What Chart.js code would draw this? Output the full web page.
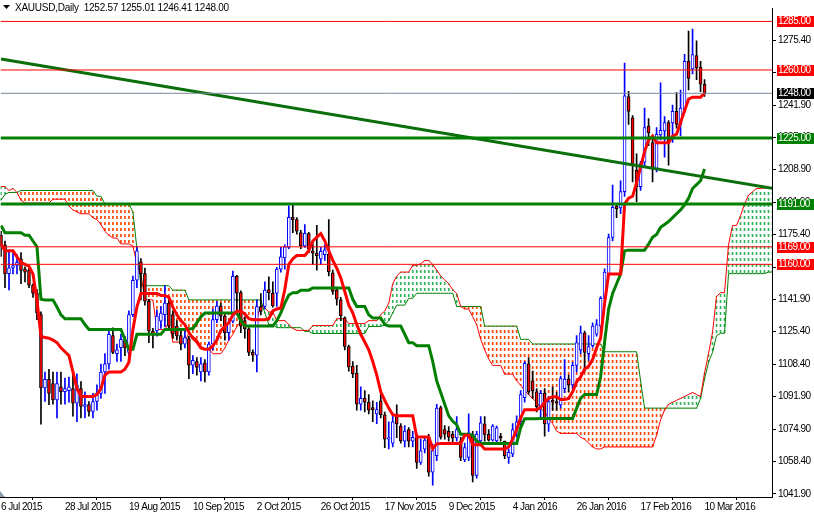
<!DOCTYPE html>
<html><head><meta charset="utf-8">
<script src="https://cdn.jsdelivr.net/npm/chart.js@4.4.1/dist/chart.umd.min.js"></script>
<style>html,body{margin:0;padding:0;background:#fff;overflow:hidden}canvas{display:block}</style>
</head><body>
<canvas id="c" width="814" height="514"></canvas>
<script>
// ---------------- DATA ----------------
const symbolTitle = 'XAUUSD,Daily';
const lastOHLC = ['1252.57', '1255.01', '1246.41', '1248.00'];

const dateLabels = ['6 Jul 2015','28 Jul 2015','19 Aug 2015','10 Sep 2015','2 Oct 2015','26 Oct 2015','17 Nov 2015','9 Dec 2015','4 Jan 2016','26 Jan 2016','17 Feb 2016','10 Mar 2016'];
const dateLabelBars = [0,16,32,48,64,80,96,112,128,144,160,176];

const yTickValues = [1041.9,1058.4,1074.9,1091.9,1108.4,1125.4,1141.9,1158.4,1175.4,1191.9,1208.9,1225.4,1241.9,1258.9,1275.4];

const openP = [1175,1170,1155.2,1158.2,1159.4,1162.8,1157.7,1156.9,1149.3,1145.1,1134.1,1096.4,1100.8,1098.6,1090.2,1097,1094.4,1095,1096.1,1088.5,1096.1,1086.9,1087.8,1084.3,1089.4,1093.6,1104.6,1108.8,1123.3,1114,1117.1,1121,1114.7,1134.1,1151.8,1161.3,1155.2,1140.9,1125.7,1125.7,1130.7,1134.1,1140,1134.1,1128.2,1123.3,1118.9,1121.8,1108.1,1110,1104.6,1109.3,1104.6,1118.9,1131.5,1138.6,1133.3,1124.8,1130.7,1153.8,1145.4,1131,1126.8,1114.7,1113.3,1138.3,1138.3,1147,1145.1,1145.1,1157.5,1163.3,1168.7,1184.2,1183,1176.3,1169.5,1175.8,1167,1165.7,1162.8,1165,1165.3,1155.6,1146.7,1141.7,1132.4,1117.7,1107.6,1104,1088,1091,1089,1086.3,1083,1089.7,1082.6,1070,1068,1082.6,1076.7,1069,1075,1069,1070.8,1058,1064.9,1070.8,1053,1061.5,1086.3,1075,1074,1072.5,1070.7,1069,1059.3,1060.6,1072.7,1051.4,1069.1,1077.9,1072.5,1069.5,1069.1,1071.5,1069,1060.6,1062.4,1075,1079,1091.4,1108.8,1100,1094.4,1086.6,1093.6,1077.7,1090,1089.4,1087.7,1096,1101,1098,1108,1116,1124.8,1114,1118.1,1124,1128.2,1142.5,1155.2,1173.8,1189.8,1189,1197.4,1246.3,1235.4,1208.4,1199.9,1212.6,1231.1,1222.7,1209.2,1226.6,1228.6,1233,1232.8,1238.7,1232,1239.6,1264.5,1260.6,1267.4,1261.5,1252.57];
const highP = [1177,1172,1167,1166,1165,1166,1158.7,1158,1150,1147,1135.5,1104.6,1106,1104.6,1104.6,1104.6,1101.5,1102,1103.7,1103.7,1099.7,1094.4,1089.4,1093.6,1098,1108.7,1114,1126.5,1127.3,1119,1124,1123,1136,1154,1169,1163,1158,1142,1127,1136.6,1138.3,1149,1142.5,1136,1131,1126,1126.5,1123,1113,1112,1112,1111,1120,1137,1141,1140,1134,1131,1156.5,1154.3,1146.4,1133,1127.5,1116,1141.7,1145,1151,1153.5,1151,1158.5,1168.7,1170,1190.1,1191,1184,1177.5,1180.5,1176.5,1172,1180,1168.7,1170,1183,1157,1148,1143,1133,1118.5,1110,1108,1097,1095,1093,1089.7,1089,1095.3,1084,1079,1083,1087.7,1078,1077,1076,1074,1072.5,1070,1071,1072.5,1067.5,1088,1087,1077,1076.5,1074,1081.7,1071,1068,1083,1074,1074,1081.7,1081.7,1075,1077.5,1076.7,1073,1069,1065,1078,1082,1095,1110,1112,1105,1096,1095,1096,1092,1097,1094,1102.5,1111,1103,1109.6,1123.3,1128.2,1125.7,1123.3,1129.9,1131.5,1143.4,1157.7,1175.5,1200.8,1190.6,1203,1263.5,1249,1236.5,1216.8,1213,1240.4,1235,1225,1230.3,1253.4,1236,1234,1241.9,1248.4,1249.7,1268,1280,1281,1275,1264.5,1255.01];
const lowP = [1164,1148,1146.8,1155,1155,1150,1151,1148,1143,1131.5,1077.7,1089.4,1087.8,1088,1080.9,1088,1088,1089,1081.8,1079,1081,1081,1081.8,1081,1085,1091,1093.6,1106,1114,1110,1110,1113,1113,1133,1148,1141.7,1139,1119.7,1117,1123,1127,1128,1126.5,1122,1121,1116,1117,1101.2,1103.7,1103,1100,1099.5,1103,1116,1130,1131,1121,1121,1129.9,1135,1124.8,1122,1113,1110,1104.6,1134,1137,1141.7,1138,1138.3,1156,1157.5,1168,1176.3,1175.5,1168,1168.7,1166,1160,1157,1160,1162,1154,1144.5,1139,1131,1116,1105,1101.7,1085,1085,1084,1083,1079,1078,1081,1065.7,1065,1066,1070.8,1068,1066,1066,1066,1055,1057,1063,1051,1046.3,1059,1070,1070,1069,1068,1069,1059,1058.5,1059,1048,1050,1068,1069,1069,1069,1068,1069,1060,1057.6,1061,1071,1076,1089,1093,1091,1084,1081,1071.6,1074,1085,1085,1086,1094,1094.5,1096,1104.6,1114,1104.6,1110.6,1117.2,1123,1124.8,1141.7,1154.3,1172,1184,1186,1195,1232,1202.4,1192.3,1198,1210,1221,1202.4,1207.5,1224,1215.1,1211,1222.7,1230,1226.1,1238,1249.7,1258,1255,1248.9,1246.41];
const closeP = [1169.5,1155,1158.2,1159.4,1161,1156.9,1156,1149.3,1145.1,1135,1096.4,1100.8,1093.6,1090.2,1098.6,1094.4,1096,1097,1088.5,1097.8,1086.9,1087.8,1084.3,1089.4,1093.6,1104.6,1108.8,1124,1114.7,1116,1121.4,1117,1134.1,1151.8,1167,1155.2,1141,1125.7,1124,1133.3,1134.9,1140,1128.2,1124,1123.1,1118.9,1122.3,1108.1,1110.6,1107,1108.8,1104.6,1118.9,1131.5,1138.5,1133.3,1124.8,1129.9,1153.8,1145.1,1128.2,1126.8,1114.7,1113.3,1138.3,1135.8,1146.7,1145.4,1138.6,1157.5,1163.9,1169,1184.2,1183,1177.1,1169.5,1176,1167.8,1165.7,1164.5,1166.7,1167.5,1156.1,1146,1142,1133.6,1117.7,1107.1,1103.7,1088,1091,1089,1085,1085.2,1085.2,1082.6,1070,1070.8,1079,1077.9,1069.1,1074.2,1069,1071,1058.1,1064,1069.5,1053,1064.1,1086,1071.1,1072.6,1071,1070.5,1075,1060.6,1065.7,1073.3,1051.4,1072.7,1078.4,1072.5,1069.5,1076.7,1075.8,1070.5,1061.5,1063.2,1075,1079,1093,1109.1,1094.4,1095,1086.8,1093.6,1077.9,1089.4,1089,1088.6,1101.2,1101,1098,1108,1119.7,1124.8,1114.7,1117.7,1128.2,1129,1142.5,1156,1173.8,1189.3,1188.6,1197.4,1246.7,1238.7,1211,1199.9,1211.8,1230.3,1227.7,1209.2,1226.9,1229,1233,1222.7,1238.7,1232,1240.4,1264.5,1255.6,1267.9,1261.1,1252.7,1248.00];

const tenkan = [1170.4,1167,1167,1167,1163.8,1161,1160,1159,1155,1141.5,1123,1122.3,1122,1121,1119.7,1117,1115,1113,1104.6,1096,1092,1092,1092,1092,1093,1096,1103,1104.6,1104.6,1104.6,1104.6,1106,1109.6,1126.5,1138,1145,1145,1145,1145,1145,1144,1144,1143,1138,1134,1131,1129,1125,1122,1120,1117,1116.3,1116.3,1118,1121,1126,1128,1130,1134,1135.8,1135.8,1134.5,1132,1131.5,1131.5,1131.5,1131.5,1132,1136,1137,1137.5,1147,1160,1162.8,1164.5,1164.5,1164.5,1167,1172,1174,1175.8,1172,1167,1162,1158,1153,1146,1139,1135,1129,1124,1120,1116,1110,1103,1094.4,1090,1086,1082.6,1082.1,1082.1,1082.1,1082.1,1082.1,1071.1,1071.1,1071.1,1071.1,1065.1,1067.6,1067.8,1067.8,1067.8,1067.8,1067.8,1067.8,1072,1072,1067.1,1067.1,1067.1,1064.9,1064.9,1064.9,1064.9,1064.9,1064.9,1066,1070,1075,1081,1085.2,1085.2,1085.2,1085.2,1086.3,1089,1091,1091.9,1091.9,1090.4,1090.4,1091,1094.4,1099.5,1102,1106,1107.5,1111,1117,1122,1140,1155,1155,1155,1155,1191,1194,1195,1202,1210,1218,1224,1226,1222.5,1222.5,1222.5,1222.5,1226,1227,1233,1239,1245,1246,1246,1246,1248];
const kijun = [1180,1176.3,1176.3,1176.3,1176.3,1176.3,1175,1175,1172,1169,1142,1141.7,1141.7,1141.7,1138,1134,1132,1132,1132,1132,1132,1129,1126.5,1126.5,1126.5,1126.5,1126.5,1126.5,1126.5,1126.5,1126.5,1121.4,1116.3,1116.3,1124,1124,1124,1124,1124,1124,1124,1126.5,1126.5,1126.5,1126.5,1126.5,1126.5,1126.8,1126.8,1130,1133,1134.9,1134.9,1134.9,1134.9,1134.9,1134.9,1134.9,1134.9,1134.9,1131,1128.2,1128.2,1128.2,1128.2,1128.2,1128.2,1128.2,1128.2,1131,1135,1140,1144.2,1145.4,1145.4,1146.7,1146.7,1146.7,1147.8,1147.8,1147.8,1147.8,1147.8,1147.8,1147.8,1147.8,1147.8,1147.8,1142,1138.3,1138.3,1138.3,1134,1132.4,1132.4,1132.4,1129,1128.2,1128.2,1128.2,1128.2,1124,1119.7,1119.7,1118.1,1118.1,1118.1,1118.1,1110,1100,1094,1088,1082,1079.2,1077.5,1072.5,1072.5,1072.5,1072,1069,1067.8,1067.8,1067.8,1067.8,1067.8,1067.8,1067.8,1067.8,1067.8,1067.8,1076,1080.5,1080.5,1080.5,1080.5,1080.6,1080.6,1080.6,1080.6,1080.6,1080.6,1080.6,1080.6,1080.6,1086,1091,1093,1093,1093,1093,1102,1120,1137,1145,1150,1155,1167,1167.3,1167.3,1167.3,1167.3,1167.3,1170.4,1173.9,1175.4,1179,1180.5,1182,1184,1186,1188,1190.6,1194,1199,1201,1203,1209];
// Senkou spans (already displaced 26 bars forward, so they run past the last candle)
const spanA = [1200,1200,1198,1199,1197,1193,1191.5,1191.5,1191.5,1191.5,1191.5,1191.5,1191.5,1193.5,1193.5,1193.5,1193.5,1190,1188,1187,1186,1186,1186,1184,1183,1180.5,1177,1175,1173.5,1173.5,1170.5,1170.5,1170.5,1169.5,1160,1155,1141.7,1141.7,1141.7,1126.5,1126.5,1126.5,1130,1120,1120,1120,1120,1124.8,1123,1121.4,1118,1116.5,1116.5,1114,1114,1114,1117,1121,1124,1128,1130.5,1133,1131.8,1131.8,1131.8,1139,1137.5,1135.5,1135.5,1131,1131,1131,1129,1127,1126,1126,1126,1126,1128.5,1128.5,1128.5,1128.5,1128.5,1128.5,1132,1132,1132,1129.5,1129.5,1129.5,1129.5,1129.5,1131,1131,1131,1134,1136,1140,1150,1154,1156,1156,1156,1159.5,1159.5,1160.3,1161.9,1161.9,1160,1157,1154,1152,1150,1147,1145,1138.3,1137,1137,1133,1129,1121.4,1116,1111.3,1108,1108,1108,1103.5,1103.5,1103.5,1100,1097.8,1095,1093,1091,1089,1086,1084,1081,1078,1074.2,1073,1073,1073,1073,1073,1071,1070,1068,1066,1065,1065,1066,1066,1066,1066,1066,1066,1066,1066,1066,1066,1066,1066,1066,1072,1080,1085,1088,1089,1090,1091,1092,1093,1094,1093,1092,1104,1114,1125,1143.5,1145.4,1145.4,1170,1180,1180,1185,1191,1195.6,1197.3,1199,1199,1199.4,1199.4,1199.4];
const spanB = [1193,1196,1197,1197,1197,1198,1198,1198,1198,1198,1198,1198,1198,1198,1198,1198,1198,1198,1198,1198,1198,1198,1198,1198,1195,1195,1191,1191,1191,1191,1191,1191,1191,1187,1168,1149,1149,1149,1149,1149,1149,1149,1149,1146.7,1146.7,1146.7,1146.7,1141.7,1141.7,1141.7,1141.7,1141.7,1141.7,1141.7,1141.7,1141.7,1141.7,1141.7,1141.7,1141.7,1141.7,1141.7,1141.7,1141.7,1141.7,1141.7,1135,1129,1129,1127.4,1127.4,1127.4,1127.4,1127.4,1127.4,1127.4,1125.5,1125.5,1124.4,1124.4,1124.4,1124.4,1124.4,1124.4,1124.4,1124.4,1124.4,1124.4,1124.4,1124.4,1124.4,1124.4,1128,1128,1128,1128,1129,1131,1135,1139,1139,1139,1142.5,1142.5,1145.1,1145.1,1145.1,1145.1,1145.1,1145.1,1145.1,1145.1,1145.1,1145.1,1138.3,1138.3,1138.3,1138.3,1138.3,1138.3,1138.3,1128.2,1128.2,1128.2,1128.2,1128.2,1128.2,1128.2,1128.2,1128.2,1121.4,1121.4,1121.4,1119,1119,1119,1119,1119,1119,1119,1119,1119,1119,1119,1119,1119,1119,1119,1119,1119,1119,1115,1115,1115,1115,1115,1115,1115,1115,1115,1100,1086,1086,1086,1086,1086,1086,1086,1086,1086,1086,1086,1086,1086,1086,1091,1101,1109.6,1114.7,1123.3,1124.5,1124.5,1155.2,1155.2,1155.2,1155.2,1155.2,1155.2,1155.2,1155.2,1155.2,1155.2,1156,1156];

const levelValues = [1285, 1260, 1248, 1225, 1191, 1169, 1160];
const trendBars = [0, 193];
const trendValues = [1265.7, 1199.1];

// ---------------- STYLE ----------------
const FONT_FAMILY = "'Liberation Sans', Arial, sans-serif";
const levelColors = ['#ff0000', '#ff0000', '#778899', '#008000', '#008000', '#ff0000', '#ff0000'];
const levelWidths = [1, 1, 1, 3, 3, 1, 1];
const tagColors = ['#ff0000', '#ff0000', '#000000', '#008000', '#008000', '#ff0000', '#ff0000'];

function dotPattern(color) {
  const c = document.createElement('canvas');
  c.width = 1; c.height = 6;
  const g = c.getContext('2d');
  g.fillStyle = color;
  g.fillRect(0, 0, 1, 3);
  return g.createPattern(c, 'repeat');
}

const X_MIN = -0.125, X_MAX = 192.875;

// ---------------- BUILD DATASETS ----------------
const bodyData = [], wickData = [], bodyFill = [], bodyBorder = [], wickColor = [];
for (let i = 0; i < closeP.length; i++) {
  const bull = closeP[i] >= openP[i];
  bodyData.push({x: i, y: [openP[i], closeP[i]]});
  wickData.push({x: i, y: [lowP[i], highP[i]]});
  bodyFill.push(bull ? '#ffffff' : '#ff0000');
  bodyBorder.push(bull ? '#0000ff' : '#000000');
  wickColor.push(bull ? '#0000ff' : '#000000');
}
const cloudUp = [], cloudDown = [];
for (let i = 0; i < spanA.length; i++) {
  if (spanA[i] >= spanB[i]) cloudUp.push({x: i, y: [spanB[i], spanA[i]]});
  else cloudDown.push({x: i, y: [spanA[i], spanB[i]]});
}
const toXY = arr => arr.map((v, i) => ({x: i, y: v}));

const datasets = [];
levelValues.forEach((v, k) => {
  datasets.push({type: 'line', data: [{x: X_MIN, y: v}, {x: X_MAX, y: v}], borderColor: levelColors[k], borderWidth: levelWidths[k], pointRadius: 0, order: 1});
});
datasets.push({type: 'line', data: trendBars.map((b, k) => ({x: b, y: trendValues[k]})), borderColor: '#0a6e0a', borderWidth: 3, pointRadius: 0, order: 1});
datasets.push({type: 'line', data: toXY(tenkan), borderColor: '#ff0000', borderWidth: 3, pointRadius: 0, order: 2});
datasets.push({type: 'line', data: toXY(kijun), borderColor: '#008000', borderWidth: 3, pointRadius: 0, order: 2});
datasets.push({type: 'bar', data: bodyData, backgroundColor: bodyFill, borderColor: bodyBorder, borderWidth: 1, borderSkipped: false, barThickness: 3, minBarLength: 1, grouped: false, order: 3});
datasets.push({type: 'bar', data: wickData, backgroundColor: wickColor, borderWidth: 0, barThickness: 1, grouped: false, order: 4});
datasets.push({type: 'line', data: toXY(spanA), borderColor: '#ff0000', borderWidth: 1, pointRadius: 0, order: 5});
datasets.push({type: 'line', data: toXY(spanB), borderColor: '#008000', borderWidth: 1, pointRadius: 0, order: 5});
datasets.push({type: 'bar', data: cloudDown, backgroundColor: dotPattern('#ff4500'), borderWidth: 0, barThickness: 1, grouped: false, order: 6});
datasets.push({type: 'bar', data: cloudUp, backgroundColor: dotPattern('#2db35a'), borderWidth: 0, barThickness: 1, grouped: false, order: 6});

const spacingPlugin = {
  id: 'spacing',
  beforeDraw(chart) { chart.ctx.letterSpacing = '-0.5px'; }
};

const overlayPlugin = {
  id: 'overlay',
  afterDraw(chart) {
    const ctx = chart.ctx, ys = chart.scales.y, area = chart.chartArea;
    ctx.save();
    ctx.letterSpacing = '-0.5px';
    ctx.font = '10px ' + FONT_FAMILY;
    ctx.textBaseline = 'middle';
    ctx.textAlign = 'left';
    levelValues.forEach((v, k) => {
      const py = Math.round(ys.getPixelForValue(v));
      ctx.fillStyle = tagColors[k];
      ctx.fillRect(area.right + 5, py - 5, 37, 11);
      ctx.fillStyle = '#ffffff';
      ctx.fillText(v.toFixed(2), area.right + 6, py + 0.5);
    });
    // title
    ctx.fillStyle = '#000';
    ctx.beginPath();
    ctx.moveTo(3, 5); ctx.lineTo(10, 5); ctx.lineTo(6.5, 9); ctx.closePath(); ctx.fill();
    ctx.letterSpacing = '-0.25px';
    ctx.textBaseline = 'alphabetic';
    ctx.fillText(symbolTitle + '  ' + lastOHLC.join(' '), 15, 11);
    // chart shift marker
    ctx.fillStyle = '#8a9bb0';
    ctx.beginPath();
    ctx.moveTo(0, area.bottom - 6); ctx.lineTo(5, area.bottom); ctx.lineTo(0, area.bottom); ctx.closePath(); ctx.fill();
    ctx.restore();
  }
};

new Chart(document.getElementById('c'), {
  type: 'line',
  data: {datasets},
  options: {
    responsive: false,
    animation: false,
    events: [],
    layout: {padding: 0, autoPadding: false},
    plugins: {legend: {display: false}, tooltip: {enabled: false}, title: {display: false}},
    scales: {
      x: {
        type: 'linear', min: X_MIN, max: X_MAX, offset: false,
        afterBuildTicks: s => { s.ticks = dateLabelBars.map(v => ({value: v})); },
        afterFit: s => { s.height = 17; },
        ticks: {
          autoSkip: false, maxRotation: 0, align: 'start', padding: 1, color: '#000',
          font: {family: FONT_FAMILY, size: 10},
          callback: v => { const k = dateLabelBars.indexOf(v); return k >= 0 ? dateLabels[k] : ''; }
        },
        grid: {drawOnChartArea: false, tickLength: 3, color: '#000'},
        border: {color: '#000', width: 1}
      },
      y: {
        type: 'linear', position: 'right', min: 1040.26, max: 1291.9,
        afterBuildTicks: s => { s.ticks = yTickValues.map(v => ({value: v})); },
        afterFit: s => { s.width = 42; },
        ticks: {
          autoSkip: false, padding: 2, color: '#000',
          font: {family: FONT_FAMILY, size: 10},
          callback: v => Number(v).toFixed(2)
        },
        grid: {drawOnChartArea: false, tickLength: 4, color: '#000'},
        border: {color: '#000', width: 1}
      }
    }
  },
  plugins: [spacingPlugin, overlayPlugin]
});
</script>
</body></html>
